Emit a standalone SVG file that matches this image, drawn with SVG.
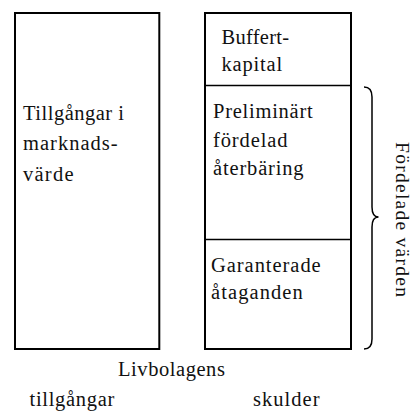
<svg xmlns="http://www.w3.org/2000/svg" width="413" height="412" viewBox="0 0 413 412">
  <style>
    text { font-family: "Liberation Serif", "DejaVu Serif", serif; font-size: 20.5px; fill: #111; }
    .box { fill: #fff; stroke: #000; stroke-width: 2; }
    .div { stroke: #000; stroke-width: 1.4; fill: none; }
    .brace { stroke: #000; stroke-width: 1.5; fill: none; }
    .rot { font-size: 19.5px; }
  </style>
  <rect width="413" height="412" fill="#fff"/>
  <g id="assets">
    <rect class="box" x="15" y="13" width="144.3" height="336"/>
    <text x="23" y="120" textLength="101" lengthAdjust="spacing">Tillgångar i</text>
    <text x="23" y="150" textLength="94.7" lengthAdjust="spacing">marknads-</text>
    <text x="23" y="180.5" textLength="50.5" lengthAdjust="spacing">värde</text>
  </g>
  <g id="liabilities">
    <rect class="box" x="205" y="13" width="146" height="336"/>
  </g>
  <g id="buffert">
    <text x="221.5" y="44" textLength="67.6" lengthAdjust="spacing">Buffert-</text>
    <text x="221.5" y="71" textLength="60.7" lengthAdjust="spacing">kapital</text>
  </g>
  <g id="preliminart">
    <line class="div" x1="205" y1="85.5" x2="351" y2="85.5"/>
    <text x="213" y="118" textLength="99.7" lengthAdjust="spacing">Preliminärt</text>
    <text x="213" y="146.5" textLength="74.6" lengthAdjust="spacing">fördelad</text>
    <text x="213" y="175" textLength="90.6" lengthAdjust="spacing">återbäring</text>
  </g>
  <g id="garanterade">
    <line class="div" x1="205" y1="239.5" x2="351" y2="239.5"/>
    <text x="211" y="272" textLength="109.7" lengthAdjust="spacing">Garanterade</text>
    <text x="211" y="299" textLength="91.8" lengthAdjust="spacing">åtaganden</text>
  </g>
  <g id="connectors">
    <path class="brace" d="M 364 87 Q 372 87 372 97 L 372 207 Q 372 217 378.5 217 Q 372 217 372 227 L 372 339 Q 372 349 364 349"/>
  </g>
  <g id="fordelade">
    <text class="rot" transform="translate(395.5,219.5) rotate(90)" text-anchor="middle" textLength="155" lengthAdjust="spacing">Fördelade värden</text>
  </g>
  <g id="labels">
    <text x="118" y="375.5" textLength="106.9" lengthAdjust="spacing">Livbolagens</text>
    <text x="29.5" y="406" textLength="84.9" lengthAdjust="spacing">tillgångar</text>
    <text x="253" y="406" textLength="66.5" lengthAdjust="spacing">skulder</text>
  </g>
</svg>
